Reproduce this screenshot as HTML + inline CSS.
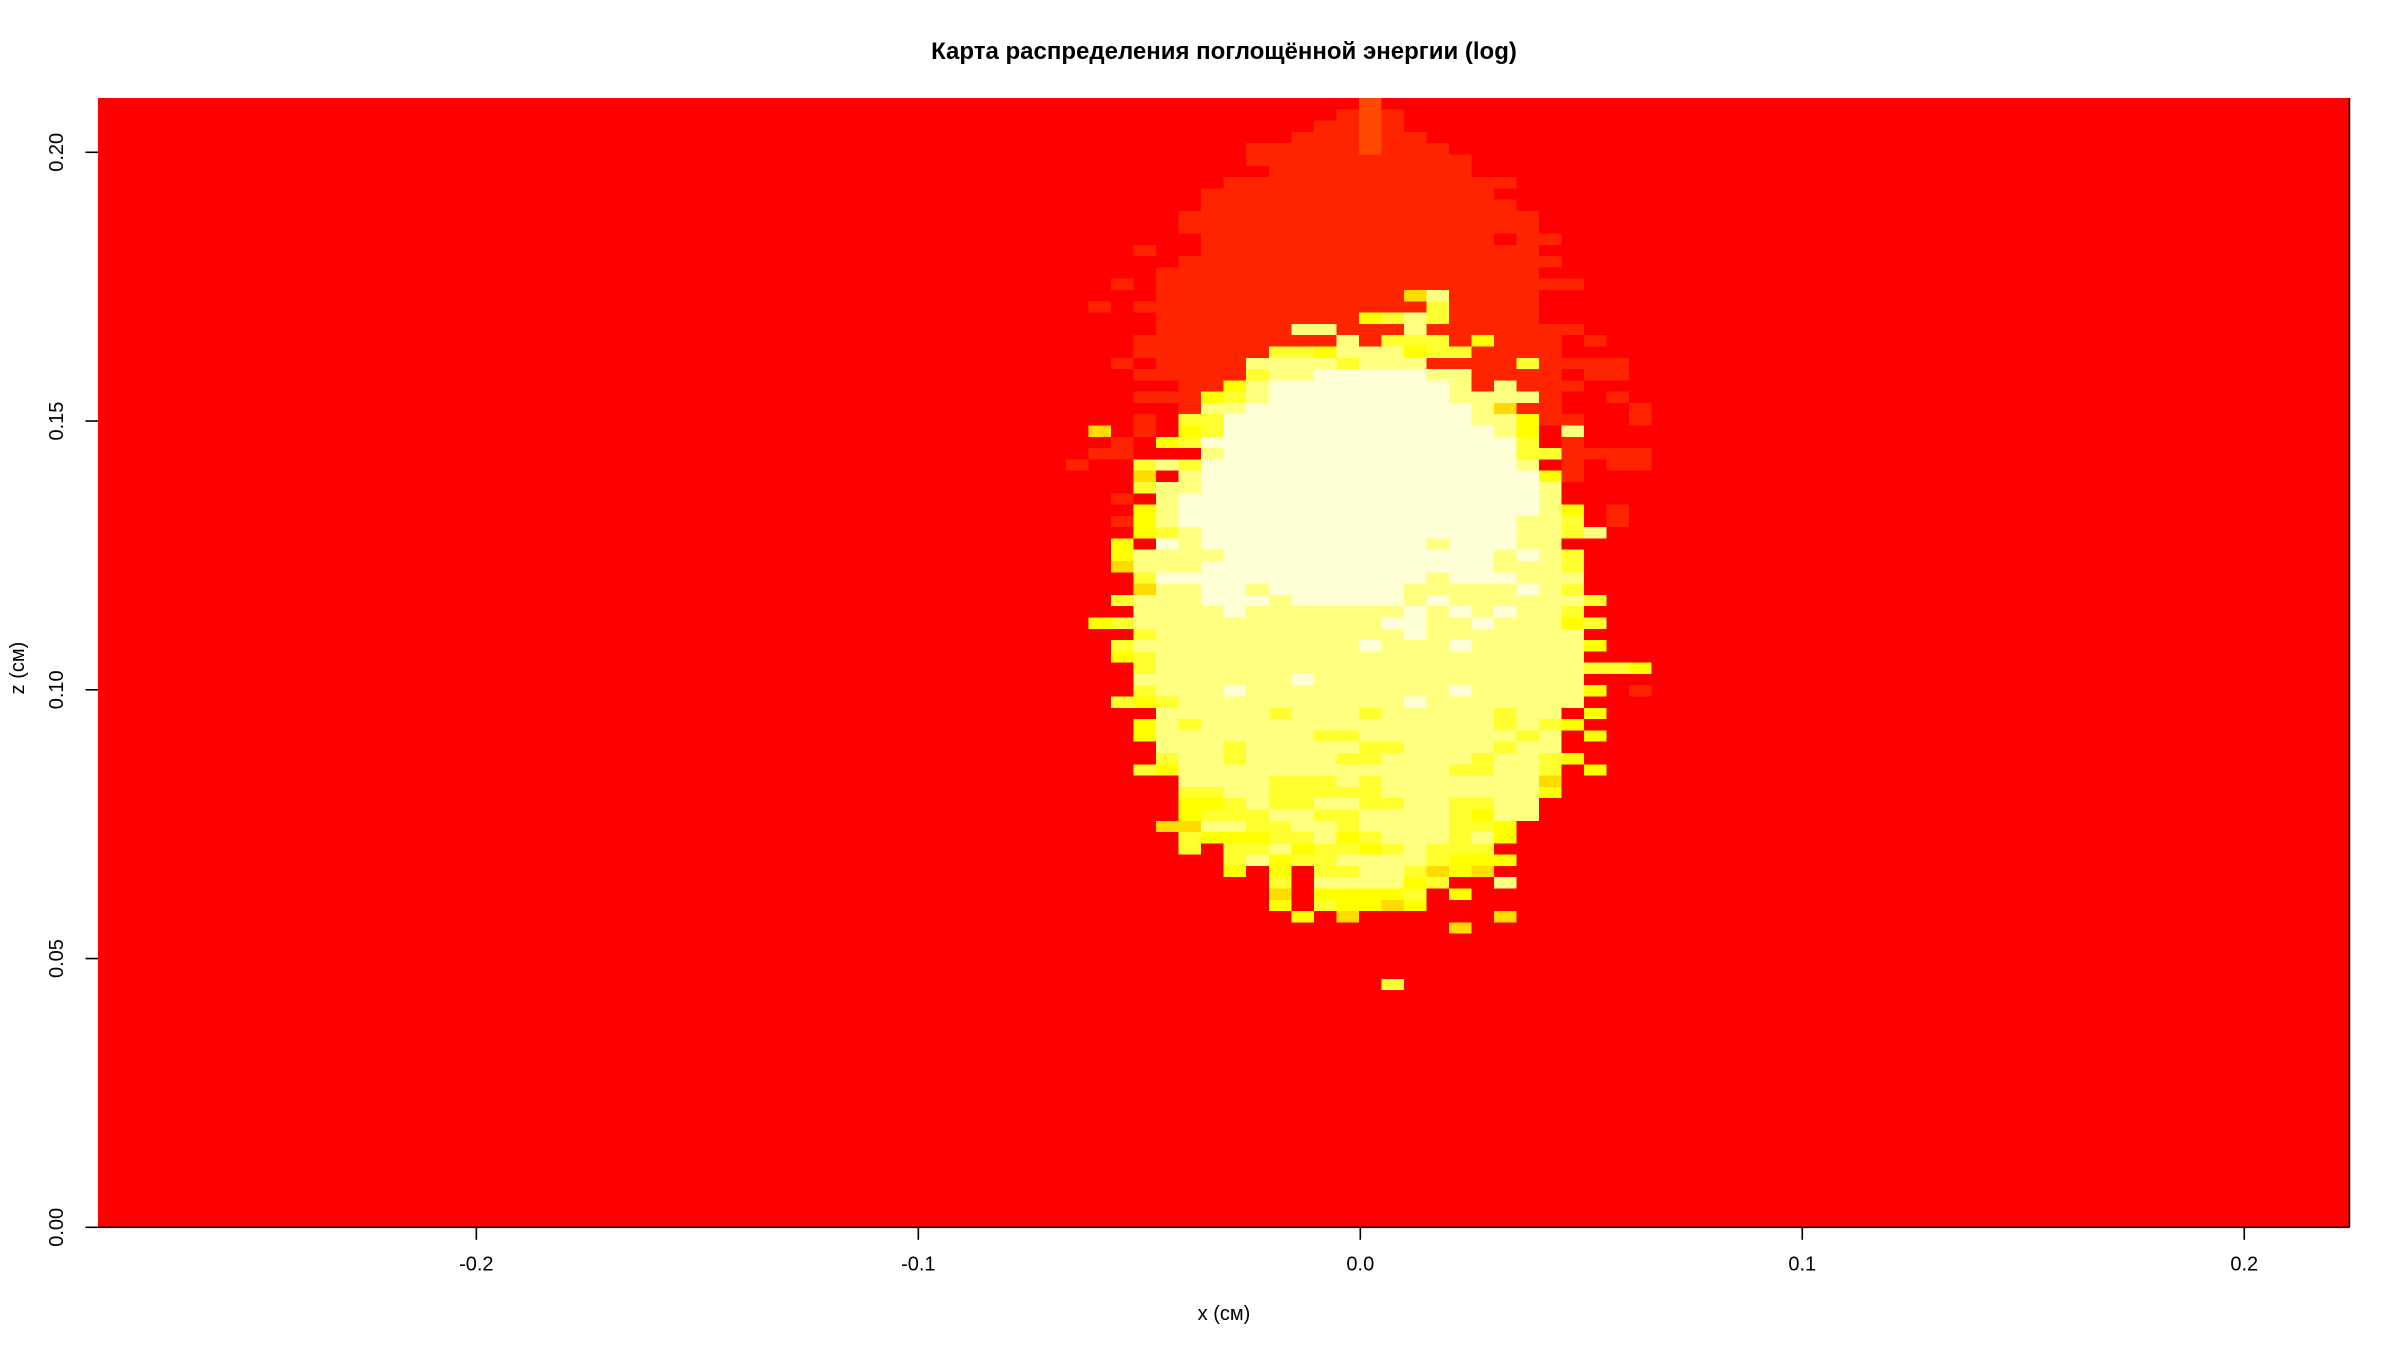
<!DOCTYPE html>
<html>
<head>
<meta charset="utf-8">
<style>
html,body{margin:0;padding:0;background:#fff;}
svg{display:block;}
text{font-family:"Liberation Sans","DejaVu Sans",sans-serif;fill:#000;}
</style>
</head>
<body>
<svg id="chart" width="2400" height="1350" viewBox="0 0 2400 1350" xmlns="http://www.w3.org/2000/svg">
  <text x="1224" y="59" font-size="24" font-weight="bold" text-anchor="middle">Карта распределения поглощённой энергии (log)</text>
  <g id="cells" shape-rendering="crispEdges"></g>
  <g id="axes"></g>
  <text x="1224" y="1320" font-size="20" text-anchor="middle">x (см)</text>
  <text x="0" y="0" font-size="20" text-anchor="middle" transform="translate(24,668) rotate(-90)">z (см)</text>
</svg>
<script>
// ---- data ----
const xTicks = [-0.2, -0.1, 0.0, 0.1, 0.2];
const xTickLabels = ["-0.2", "-0.1", "0.0", "0.1", "0.2"];
const zTicks = [0.00, 0.05, 0.10, 0.15, 0.20];
const zTickLabels = ["0.00", "0.05", "0.10", "0.15", "0.20"];
const levelColors = ["#FF0000", "#FF2400", "#FF4800", "#FFDB00", "#FFFF00", "#FFFF30", "#FFFF80", "#FFFFD5"];
const gridCols = 100;
const gridRows = 100;
const xRange = [-0.2856, 0.2238];
const zRange = [0, 0.2101];
const patchColStart = 43;
// rows from top (row 0 = highest z), columns patchColStart.. ; digit = level index
const patchRows = [
"000000000000020000000000000",
"000000000000121000000000000",
"000000000001121000000000000",
"000000000011121100000000000",
"000000001111121110000000000",
"000000001111111111000000000",
"000000000111111111000000000",
"000000011111111111110000000",
"000000111111111111100000000",
"000000111111111111110000000",
"000001111111111111111000000",
"000001111111111111111000000",
"000000111111111111101100000",
"000100111111111111111000000",
"000001111111111111111100000",
"000011111111111111111000000",
"001011111111111111111110000",
"000011111111111361111000000",
"010111111111111151111000000",
"000011111111145651111000000",
"000011111166111611111110000",
"000111111111615551411101000",
"000111111554666455111100000",
"001011116666566611115111100",
"000111115667777766111101100",
"000001146777777776161110000",
"000111456777777776666100100",
"000001667777777777631100010",
"000105577777777777664110010",
"030104577777777777764060000",
"001045777777777777775010000",
"011000677777777777775511110",
"100565777777777777776010110",
"000306777777777777777410000",
"000566777777777777777600000",
"001067777777777777777600000",
"000467777777777777777640100",
"001467777777777777776650100",
"000456777777777777776656000",
"004076777777777767776600000",
"004666677777777777767650000",
"003666777777777777766650000",
"000577777777777767776660000",
"000366776777777666667650000",
"005666777677777676666665000",
"000666676666666767676650000",
"045666666666667766766645000",
"000566666666666766666660000",
"005666666666676667666664000",
"004566666666666666666660000",
"000566666666666666666665540",
"000666666676666666666660000",
"000566676666666667666664010",
"005456666666666766666660000",
"000066666566656666656604000",
"000465666666666666656540000",
"000466666665566666665604000",
"000066656666655666656600000",
"000056656666556666566540000",
"000546666666666665566504000",
"000006666555656666666300000",
"000005566555556666666400000",
"000004456556655665566000000",
"000004555665566665466000000",
"000033665566566665540000000",
"000005444556456665640000000",
"000005055645545655500000000",
"000000056455666654440000000",
"000000040405566534300000000",
"000000000506666450060000000",
"000000000304444504000000000",
"000000000405443400000000000",
"000000000040300000030000000",
"000000000000000003000000000",
"000000000000000000000000000",
"000000000000000000000000000",
"000000000000000000000000000",
"000000000000000000000000000",
"000000000000005000000000000"
];

// ---- scales ----
const X0PX = 1360.3, XPX_PER = 4419.8;
const Z0PX = 1227.3, ZPX_PER = 5375;
function xs(v){ return X0PX + v * XPX_PER; }
function zs(v){ return Z0PX - v * ZPX_PER; }

const NS = "http://www.w3.org/2000/svg";
const cellsG = document.getElementById("cells");
const axesG = document.getElementById("axes");
const dx = (xRange[1] - xRange[0]) / gridCols;
const dz = (zRange[1] - zRange[0]) / gridRows;

function levelAt(r, k){
  const row = patchRows[r];
  if (!row) return 0;
  const c = k - patchColStart;
  if (c < 0 || c >= row.length) return 0;
  return +row[c];
}

for (let r = 0; r < gridRows; r++) {
  const zTop = zRange[1] - r * dz, zBot = zTop - dz;
  const y1 = zs(zTop), y2 = zs(zBot);
  for (let k = 0; k < gridCols; k++) {
    const lv = levelAt(r, k);
    let k2 = k;
    while (k2 + 1 < gridCols && levelAt(r, k2 + 1) === lv) k2++;
    const x1 = xs(xRange[0] + k * dx), x2 = xs(xRange[0] + (k2 + 1) * dx);
    const rect = document.createElementNS(NS, "rect");
    rect.setAttribute("x", x1.toFixed(2));
    rect.setAttribute("y", y1.toFixed(2));
    rect.setAttribute("width", (x2 - x1 + 0.4).toFixed(2));
    rect.setAttribute("height", (y2 - y1 + 0.4).toFixed(2));
    rect.setAttribute("fill", levelColors[lv]);
    
    
    cellsG.appendChild(rect);
    k = k2;
  }
}

function line(x1, y1, x2, y2, name){
  const l = document.createElementNS(NS, "line");
  l.setAttribute("x1", x1); l.setAttribute("y1", y1);
  l.setAttribute("x2", x2); l.setAttribute("y2", y2);
  l.setAttribute("stroke", "#000");
  l.setAttribute("stroke-width", "1.6");
  
  
  axesG.appendChild(l);
}
function txt(str, x, y, rot, name){
  const t = document.createElementNS(NS, "text");
  t.textContent = str;
  t.setAttribute("font-size", "20");
  t.setAttribute("text-anchor", "middle");
  if (rot) {
    t.setAttribute("transform", "translate(" + x + "," + y + ") rotate(-90)");
    t.setAttribute("x", 0); t.setAttribute("y", 7);
  } else {
    t.setAttribute("x", x); t.setAttribute("y", y);
  }
  
  
  axesG.appendChild(t);
}

const plotLeft = xs(xRange[0]), plotRight = xs(xRange[1]);
const plotTop = zs(zRange[1]), plotBottom = zs(zRange[0]);
line(plotLeft, plotBottom, plotRight, plotBottom, "x-axis-line");
line(plotRight, plotTop, plotRight, plotBottom, "right-border-line");

xTicks.forEach((v, i) => {
  const x = xs(v);
  line(x, plotBottom, x, plotBottom + 12.5, "x-tick");
  txt(xTickLabels[i], x, plotBottom + 43, false, "x-tick-label");
});
zTicks.forEach((v, i) => {
  const y = zs(v);
  line(plotLeft - 12.5, y, plotLeft, y, "y-tick");
  txt(zTickLabels[i], 56, y, true, "y-tick-label");
});
</script>
</body>
</html>
